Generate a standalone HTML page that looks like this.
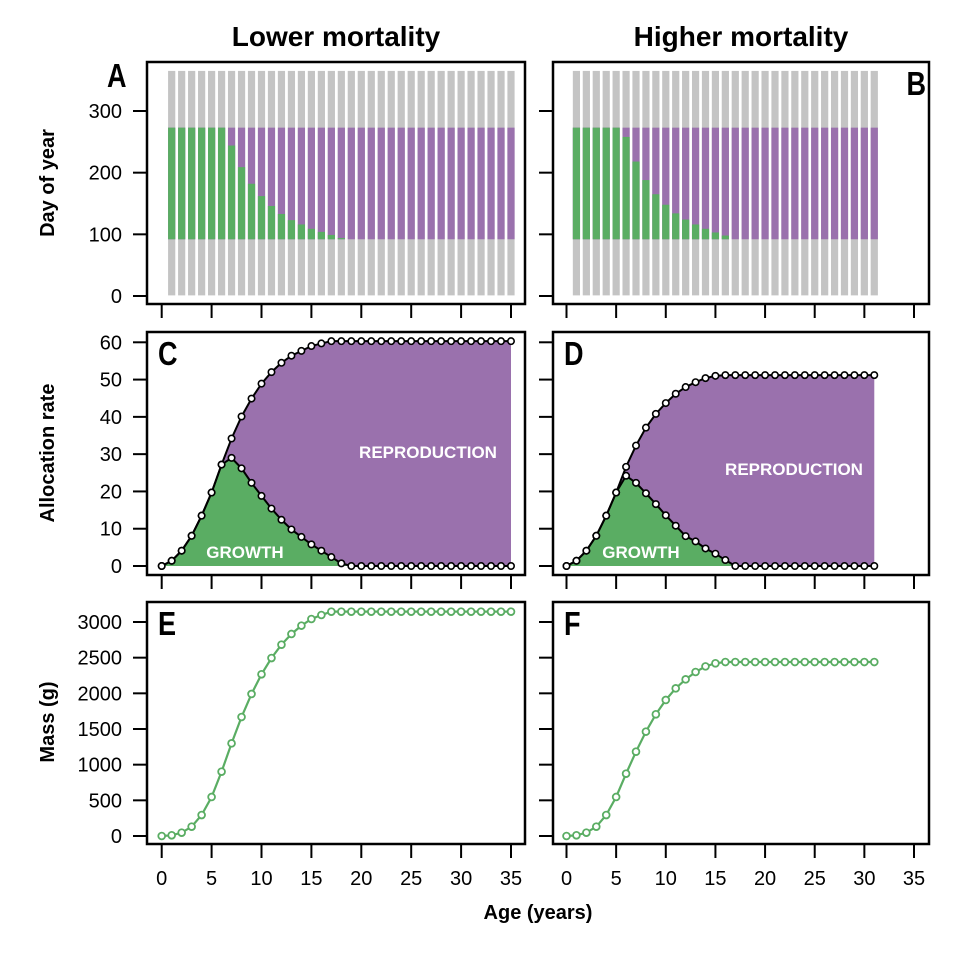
<!DOCTYPE html>
<html><head><meta charset="utf-8"><style>
body{margin:0;background:#fff;}
svg{display:block;font-family:"Liberation Sans",Arial,sans-serif;}
</style></head><body>
<svg id="fig" width="956" height="954" viewBox="0 0 956 954" xmlns="http://www.w3.org/2000/svg">
<text x="336" y="46" font-size="28" font-weight="bold" text-anchor="middle">Lower mortality</text>
<text x="741" y="46" font-size="28" font-weight="bold" text-anchor="middle">Higher mortality</text>
<text transform="translate(54,183) rotate(-90)" font-size="20" font-weight="bold" text-anchor="middle">Day of year</text>
<text transform="translate(54,453) rotate(-90)" font-size="20" font-weight="bold" text-anchor="middle">Allocation rate</text>
<text transform="translate(54,722) rotate(-90)" font-size="20" font-weight="bold" text-anchor="middle">Mass (g)</text>
<text x="538" y="919" font-size="20" font-weight="bold" text-anchor="middle">Age (years)</text>
</svg>
<script>
// ---- data ----
const ageTicks = [0,5,10,15,20,25,30,35];
const dayTicks = [0,100,200,300];
const allocTicks = [0,10,20,30,40,50,60];
const massTicks = [0,500,1000,1500,2000,2500,3000];
// day of year where growth ends (season start 92, end 273), ages 1..N
const seasonStart = 92, seasonEnd = 273, yearEnd = 365, yearStart = 1;
const switchLow = [273,273,273,273,273,273,244,209,182,162,146,133,123,116,109,104,99,94,92,92,92,92,92,92,92,92,92,92,92,92,92,92,92,92,92];
const switchHigh = [273,273,273,273,273,258,218,188,165,148,134,124,116,109,103,98,92,92,92,92,92,92,92,92,92,92,92,92,92,92,92];
// allocation totals and growth, ages 0..N
const totalLow = [0,1.4,4.1,8.1,13.5,19.7,27.2,34.2,40.1,44.9,48.9,52.0,54.5,56.4,57.7,59.0,59.7,60.3,60.3,60.3,60.3,60.3,60.3,60.3,60.3,60.3,60.3,60.3,60.3,60.3,60.3,60.3,60.3,60.3,60.3,60.3];
const growthLow = [0,1.4,4.1,8.1,13.5,19.7,27.2,29.0,26.2,22.3,18.8,15.4,12.4,9.8,7.8,5.8,4.1,2.4,0.7,0,0,0,0,0,0,0,0,0,0,0,0,0,0,0,0,0];
const totalHigh = [0,1.4,4.1,8.1,13.5,19.7,26.6,32.3,37.1,40.8,43.7,46.2,48.0,49.3,50.4,51.0,51.2,51.2,51.2,51.2,51.2,51.2,51.2,51.2,51.2,51.2,51.2,51.2,51.2,51.2,51.2,51.2];
const growthHigh = [0,1.4,4.1,8.1,13.5,19.7,24.2,22.3,19.5,16.6,13.6,10.8,8.0,6.6,4.7,3.3,1.6,0,0,0,0,0,0,0,0,0,0,0,0,0,0,0];
const massLow = [0,10,47,131,294,547,902,1299,1668,1991,2267,2495,2682,2832,2949,3042,3098,3145,3145,3145,3145,3145,3145,3145,3145,3145,3145,3145,3145,3145,3145,3145,3145,3145,3145,3145];
const massHigh = [0,10,47,131,294,547,874,1182,1463,1706,1907,2070,2196,2299,2378,2421,2439,2439,2439,2439,2439,2439,2439,2439,2439,2439,2439,2439,2439,2439,2439,2439];

const NS="http://www.w3.org/2000/svg";
const svg=document.getElementById('fig');
const GREEN="#5aad63", PURPLE="#9a71ad", GRAY="#c4c4c4";
function mk(tag,attrs,parent){const e=document.createElementNS(NS,tag);for(const k in attrs)e.setAttribute(k,attrs[k]);(parent||svg).appendChild(e);return e;}

const cols=[{x0:161.7,x35:511,left:147,right:525,side:'L'},{x0:566.5,x35:914,left:553,right:929,side:'R'}];
const rows=[{top:62,bottom:304,v0:0,p0:296,v1:300,p1:111,ticks:dayTicks},
            {top:332,bottom:575,v0:0,p0:566,v1:60,p1:342.3,ticks:allocTicks},
            {top:602,bottom:844,v0:0,p0:836,v1:3000,p1:622,ticks:massTicks}];
function xs(c,a){return c.x0+(c.x35-c.x0)*a/35;}
function ys(r,v){return r.p0+(r.p1-r.p0)*(v-r.v0)/(r.v1-r.v0);}

function frame(c,r,name){
  const g=mk('g',{});
  
  
  const f=mk('rect',{x:c.left,y:r.top,width:c.right-c.left,height:r.bottom-r.top,fill:'none',stroke:'#000','stroke-width':2.5},g);
  
  
  r.ticks.forEach(t=>{const y=ys(r,t);
    const tk=mk('line',{x1:c.left-14,x2:c.left,y1:y,y2:y,stroke:'#000','stroke-width':2},g);
    
    
    if(c.side==='L'){const tl=mk('text',{x:122,y:y+7,'font-size':20,'text-anchor':'end'},g);tl.textContent=t;
      
      }
  });
  ageTicks.forEach(a=>{const x=xs(c,a);
    const tk=mk('line',{x1:x,x2:x,y1:r.bottom,y2:r.bottom+14,stroke:'#000','stroke-width':2},g);
    
    
    if(r===rows[2]){const tl=mk('text',{x:x,y:885,'font-size':20,'text-anchor':'middle'},g);tl.textContent=a;
      
      }
  });
  return g;
}
function letter(ch,x,y,anchor){
  const t=mk('text',{x:x,y:y,'font-size':33,'font-weight':'bold','text-anchor':anchor||'start',transform:`translate(${x},0) scale(0.82,1) translate(${-x},0)`});
  t.textContent=ch;
  
  
}

// Row 1: phenology bars
[[cols[0],switchLow,'panel-a'],[cols[1],switchHigh,'panel-b']].forEach(([c,sw,nm])=>{
  const r=rows[0];
  frame(c,r,nm+'-axes');
  sw.forEach((d,i)=>{const a=i+1,x=xs(c,a)-3.6,w=7.2;
    const gb=mk('rect',{x:x,y:ys(r,yearEnd),width:w,height:ys(r,yearStart)-ys(r,yearEnd),fill:GRAY});
    
    
    const pb=mk('rect',{x:x,y:ys(r,seasonEnd),width:w,height:ys(r,seasonStart)-ys(r,seasonEnd),fill:PURPLE});
    
    
    if(d>seasonStart){const gr=mk('rect',{x:x,y:ys(r,d),width:w,height:ys(r,seasonStart)-ys(r,d),fill:GREEN});
      
      }
  });
});
letter('A',107,87);
letter('B',926,95,'end');

// Row 2: allocation
[[cols[0],totalLow,growthLow,'panel-c',[428,458],[245,558]],[cols[1],totalHigh,growthHigh,'panel-d',[794,475],[641,558]]].forEach(([c,tot,gro,nm,rp,gp])=>{
  const r=rows[1];
  frame(c,r,nm+'-axes');
  const n=tot.length;
  let pp=tot.map((v,i)=>xs(c,i)+','+ys(r,v));
  for(let i=n-1;i>=0;i--)pp.push(xs(c,i)+','+ys(r,gro[i]));
  const pa=mk('polygon',{points:pp.join(' '),fill:PURPLE});
  
  
  let gpts=gro.map((v,i)=>xs(c,i)+','+ys(r,v));
  const ga=mk('polygon',{points:gpts.join(' '),fill:GREEN});
  
  
  [tot,gro].forEach((s,k)=>{
    const ln=mk('polyline',{points:s.map((v,i)=>xs(c,i)+','+ys(r,v)).join(' '),fill:'none',stroke:'#000','stroke-width':2});
    
    
  });
  [tot,gro].forEach((s,k)=>s.forEach((v,i)=>{
    const p=mk('circle',{cx:xs(c,i),cy:ys(r,v),r:3.2,fill:'#fff',stroke:'#000','stroke-width':1.6});
    
    
  }));
  const t1=mk('text',{x:rp[0],y:rp[1],'font-size':17,'font-weight':'bold',fill:'#fff','text-anchor':'middle'});t1.textContent='REPRODUCTION';
  
  
  const t2=mk('text',{x:gp[0],y:gp[1],'font-size':17,'font-weight':'bold',fill:'#fff','text-anchor':'middle'});t2.textContent='GROWTH';
  
  
});
letter('C',158,365);
letter('D',564,365);

// Row 3: mass
[[cols[0],massLow,'panel-e'],[cols[1],massHigh,'panel-f']].forEach(([c,m,nm])=>{
  const r=rows[2];
  frame(c,r,nm+'-axes');
  const ln=mk('polyline',{points:m.map((v,i)=>xs(c,i)+','+ys(r,v)).join(' '),fill:'none',stroke:GREEN,'stroke-width':2.2});
  
  
  m.forEach((v,i)=>{const p=mk('circle',{cx:xs(c,i),cy:ys(r,v),r:3.4,fill:'#fff',stroke:GREEN,'stroke-width':1.8});
    
    });
});
letter('E',158,635);
letter('F',564,635);
</script>
</body></html>
